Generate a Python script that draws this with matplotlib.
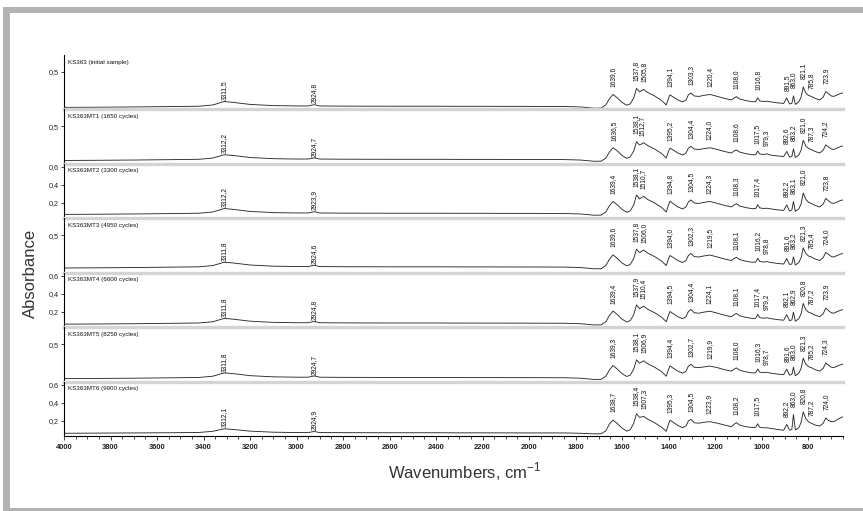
import numpy as np
import matplotlib
matplotlib.use("Agg")
import matplotlib.pyplot as plt
from matplotlib.patches import Rectangle
from matplotlib.ticker import MultipleLocator, FixedLocator

plt.rcParams['font.family'] = ['Liberation Sans', 'DejaVu Sans']

# ---------------- data ----------------
wn = [4000, 3850, 3700, 3550, 3420, 3360, 3311, 3270, 3200, 3100,
      3000, 2950, 2924, 2900, 2800, 2600, 2400, 2300, 2200, 2000,
      1850, 1780, 1720, 1690, 1670, 1655, 1639, 1620, 1600, 1580,
      1565, 1550, 1538, 1525, 1507, 1490, 1460, 1430, 1410, 1400,
      1394, 1380, 1360, 1340, 1325, 1315, 1304, 1290, 1270, 1250,
      1222, 1190, 1160, 1130, 1115, 1108, 1095, 1070, 1040, 1025,
      1017, 1008, 990, 979, 960, 930, 905, 892, 880, 870,
      863, 855, 840, 830, 821, 810, 798, 786, 770, 750,
      735, 724, 712, 700, 690, 675, 660, 650]

abs_ks363 = [0.106,0.108,0.111,0.115,0.119,0.133,0.172,0.161,0.139,0.126,
             0.122,0.122,0.136,0.122,0.120,0.119,0.119,0.118,0.118,0.117,
             0.116,0.111,0.097,0.098,0.133,0.200,0.250,0.211,0.161,0.130,
             0.145,0.211,0.317,0.278,0.306,0.272,0.233,0.183,0.133,0.211,
             0.245,0.222,0.189,0.167,0.189,0.245,0.267,0.233,0.228,0.239,
             0.250,0.228,0.206,0.189,0.217,0.225,0.200,0.183,0.169,0.172,
             0.213,0.178,0.172,0.175,0.167,0.156,0.150,0.211,0.145,0.150,
             0.233,0.139,0.167,0.222,0.333,0.267,0.239,0.228,0.206,0.189,
             0.222,0.283,0.256,0.233,0.228,0.245,0.261,0.267]

abs_mt1 = [0.121,0.123,0.126,0.130,0.134,0.148,0.185,0.176,0.154,0.141,
           0.137,0.137,0.150,0.137,0.135,0.134,0.134,0.133,0.133,0.132,
           0.131,0.126,0.112,0.113,0.148,0.212,0.262,0.226,0.176,0.145,
           0.160,0.226,0.330,0.293,0.318,0.287,0.248,0.198,0.148,0.226,
           0.258,0.237,0.204,0.182,0.204,0.258,0.278,0.248,0.243,0.252,
           0.262,0.243,0.221,0.204,0.232,0.238,0.215,0.198,0.184,0.187,
           0.226,0.193,0.187,0.195,0.180,0.171,0.165,0.222,0.160,0.165,
           0.250,0.154,0.182,0.237,0.345,0.282,0.254,0.243,0.221,0.204,
           0.237,0.295,0.271,0.248,0.243,0.260,0.276,0.282]

abs_mt2 = [0.071,0.073,0.076,0.080,0.084,0.098,0.137,0.126,0.104,0.091,
           0.087,0.087,0.101,0.087,0.085,0.084,0.084,0.083,0.083,0.082,
           0.081,0.076,0.062,0.063,0.098,0.165,0.215,0.176,0.126,0.095,
           0.110,0.176,0.287,0.245,0.272,0.237,0.198,0.148,0.098,0.180,
           0.218,0.190,0.154,0.132,0.154,0.210,0.232,0.198,0.193,0.204,
           0.215,0.193,0.171,0.154,0.182,0.190,0.165,0.148,0.134,0.137,
           0.178,0.143,0.137,0.140,0.132,0.121,0.115,0.176,0.110,0.120,
           0.215,0.104,0.132,0.190,0.310,0.240,0.204,0.193,0.171,0.154,
           0.187,0.250,0.221,0.198,0.193,0.210,0.226,0.232]

abs_mt3 = [0.136,0.138,0.141,0.145,0.149,0.163,0.200,0.191,0.169,0.156,
           0.152,0.152,0.166,0.152,0.150,0.149,0.149,0.148,0.148,0.147,
           0.146,0.141,0.127,0.128,0.163,0.230,0.282,0.241,0.191,0.160,
           0.175,0.241,0.345,0.308,0.335,0.302,0.263,0.213,0.163,0.241,
           0.275,0.252,0.219,0.197,0.219,0.275,0.297,0.263,0.258,0.269,
           0.280,0.258,0.236,0.219,0.247,0.255,0.230,0.213,0.199,0.202,
           0.243,0.208,0.202,0.207,0.197,0.186,0.180,0.241,0.175,0.180,
           0.260,0.169,0.197,0.252,0.360,0.297,0.269,0.258,0.236,0.219,
           0.252,0.310,0.286,0.263,0.258,0.275,0.291,0.297]

abs_mt4 = [0.061,0.063,0.066,0.070,0.074,0.088,0.125,0.116,0.094,0.081,
           0.077,0.077,0.091,0.077,0.075,0.074,0.074,0.073,0.073,0.072,
           0.071,0.066,0.052,0.053,0.088,0.155,0.207,0.166,0.116,0.085,
           0.100,0.166,0.275,0.233,0.262,0.227,0.188,0.138,0.088,0.166,
           0.202,0.177,0.144,0.122,0.144,0.202,0.225,0.188,0.183,0.194,
           0.205,0.183,0.161,0.144,0.172,0.180,0.155,0.138,0.124,0.127,
           0.170,0.133,0.127,0.132,0.122,0.111,0.105,0.166,0.100,0.108,
           0.195,0.094,0.122,0.177,0.292,0.222,0.194,0.183,0.161,0.144,
           0.177,0.240,0.211,0.188,0.183,0.200,0.216,0.222]

abs_mt5 = [0.116,0.118,0.121,0.125,0.129,0.143,0.180,0.171,0.149,0.136,
           0.132,0.132,0.146,0.132,0.130,0.129,0.129,0.128,0.128,0.127,
           0.126,0.121,0.107,0.108,0.143,0.210,0.262,0.221,0.171,0.140,
           0.155,0.221,0.325,0.288,0.314,0.282,0.243,0.193,0.143,0.221,
           0.258,0.232,0.199,0.177,0.199,0.255,0.275,0.243,0.238,0.246,
           0.256,0.238,0.216,0.199,0.227,0.235,0.210,0.193,0.179,0.182,
           0.223,0.188,0.182,0.187,0.177,0.166,0.160,0.221,0.155,0.162,
           0.243,0.149,0.177,0.232,0.343,0.277,0.249,0.238,0.216,0.199,
           0.232,0.291,0.266,0.243,0.238,0.255,0.271,0.277]

abs_mt6 = [0.058,0.060,0.062,0.064,0.067,0.080,0.108,0.100,0.082,0.070,
           0.066,0.066,0.078,0.066,0.065,0.064,0.064,0.063,0.063,0.062,
           0.062,0.058,0.052,0.053,0.085,0.160,0.205,0.165,0.115,0.082,
           0.098,0.170,0.275,0.235,0.245,0.215,0.175,0.125,0.080,0.165,
           0.203,0.180,0.145,0.120,0.140,0.195,0.213,0.175,0.170,0.180,
           0.187,0.170,0.150,0.131,0.165,0.176,0.150,0.132,0.122,0.125,
           0.163,0.125,0.118,0.120,0.112,0.100,0.092,0.156,0.092,0.100,
           0.266,0.095,0.120,0.180,0.296,0.220,0.185,0.169,0.150,0.139,
           0.170,0.229,0.200,0.187,0.187,0.210,0.232,0.241]

sample_names = ["KS363 (initial sample)", "KS363MT1 (1650 cycles)",
                "KS363MT2 (3300 cycles)", "KS363MT3 (4950 cycles)",
                "KS363MT4 (6600 cycles)", "KS363MT5 (8250 cycles)",
                "KS363MT6 (9900 cycles)"]

peaks_ks363 = [3311.5, 2924.8, 1639.6, 1537.8, 1505.8, 1394.1, 1303.3, 1220.4,
               1108.0, 1016.8, 891.5, 863.0, 821.1, 785.8, 723.9]
peaks_mt1 = [3312.2, 2924.7, 1636.5, 1538.1, 1512.7, 1395.2, 1304.4, 1224.0,
             1108.6, 1017.5, 979.3, 892.6, 863.2, 821.0, 787.3, 724.2]
peaks_mt2 = [3312.2, 2923.9, 1639.4, 1538.1, 1510.7, 1394.8, 1304.5, 1224.3,
             1108.3, 1017.4, 892.2, 863.1, 821.0, 723.8]
peaks_mt3 = [3311.8, 2924.6, 1639.6, 1537.8, 1506.0, 1394.0, 1302.3, 1219.5,
             1108.1, 1016.2, 978.8, 891.6, 863.2, 821.3, 785.4, 724.0]
peaks_mt4 = [3311.8, 2924.8, 1639.4, 1537.9, 1510.4, 1394.5, 1304.4, 1224.1,
             1108.1, 1017.4, 979.2, 892.1, 862.9, 820.8, 787.2, 723.9]
peaks_mt5 = [3311.8, 2924.7, 1639.3, 1538.1, 1506.9, 1394.4, 1302.7, 1219.9,
             1108.0, 1016.3, 978.7, 891.6, 863.0, 821.3, 785.2, 724.3]
peaks_mt6 = [3312.1, 2924.9, 1638.7, 1538.4, 1507.3, 1395.3, 1304.5, 1223.9,
             1108.2, 1017.5, 892.2, 863.0, 820.8, 787.2, 724.0]

yticks_half = [0.5]
yticks_fine = [0.2, 0.4, 0.6]
xtick_labels = [4000, 3800, 3600, 3400, 3200, 3000, 2800, 2600, 2400,
                2200, 2000, 1800, 1600, 1400, 1200, 1000, 800]

spectra = [abs_ks363, abs_mt1, abs_mt2, abs_mt3, abs_mt4, abs_mt5, abs_mt6]
peaks = [peaks_ks363, peaks_mt1, peaks_mt2, peaks_mt3, peaks_mt4, peaks_mt5, peaks_mt6]
panel_ticks = [yticks_half, yticks_half, yticks_fine, yticks_half,
               yticks_fine, yticks_half, yticks_fine]

# ---------------- figure ----------------
W, H = 863, 511
fig = plt.figure(figsize=(W / 100, H / 100), dpi=100)
fig.patch.set_facecolor('white')

frame_col = '#b3b3b3'
fig.add_artist(Rectangle((3 / W, 1 - 508 / H), 7 / W, 501 / H, transform=fig.transFigure,
                         facecolor=frame_col, edgecolor='none'))
fig.add_artist(Rectangle((3 / W, 1 - 13 / H), 1, 6 / H, transform=fig.transFigure,
                         facecolor=frame_col, edgecolor='none'))
fig.add_artist(Rectangle((3 / W, 0), 1, 3 / H, transform=fig.transFigure,
                         facecolor=frame_col, edgecolor='none'))

left_px, right_px = 64, 843
top_px, bottom_px = 55, 436
n = len(spectra)
ph = (bottom_px - top_px) / n
line_col = '#2b2b2b'
wn_arr = np.array(wn, dtype=float)

for i in range(n):
    y_top = top_px + i * ph
    ax = fig.add_axes([left_px / W, 1 - (y_top + ph) / H, (right_px - left_px) / W, ph / H])
    a = np.array(spectra[i])
    ax.plot(wn_arr, a, color=line_col, lw=0.65)
    ax.set_xlim(4000, 650)
    if panel_ticks[i] == yticks_half:
        ax.set_ylim(0.5 - 37.5 / 90, 0.5 + 17 / 90)
    else:
        ax.set_ylim(0.6 - 54.5 / 90 + 3 / 90, 0.6 + 3 / 90)
    ax.yaxis.set_major_locator(FixedLocator(panel_ticks[i]))
    ax.set_yticklabels([f"{t:.1f}".replace('.', ',') for t in panel_ticks[i]])
    ax.tick_params(axis='y', length=2.5, width=0.6, labelsize=5.2, pad=1.5, colors='#222222')
    for s in ['top', 'right']:
        ax.spines[s].set_visible(False)
    ax.spines['left'].set_linewidth(0.8)
    ax.patch.set_alpha(0)
    if i < n - 1:
        ax.spines['bottom'].set_color('#d4d4d4')
        ax.spines['bottom'].set_linewidth(2.4)
        ax.tick_params(axis='x', bottom=False, labelbottom=False)
    else:
        ax.spines['bottom'].set_linewidth(0.8)
        ax.xaxis.set_major_locator(FixedLocator(xtick_labels))
        ax.xaxis.set_minor_locator(MultipleLocator(50))
        ax.set_xticklabels([str(t) for t in xtick_labels])
        ax.tick_params(axis='x', which='major', length=3, width=0.6, labelsize=5.4,
                       pad=3, colors='#222222')
        ax.tick_params(axis='x', which='minor', length=2, width=0.5)
        for lbl in ax.get_xticklabels():
            lbl.set_fontweight('bold')
    ax.text(0.005, 0.87, sample_names[i], transform=ax.transAxes, fontsize=4.5,
            ha='left', va='center', color='#111111')
    # peak labels
    for p in peaks[i]:
        yv = np.interp(p, wn_arr[::-1], a[::-1])
        off = 1.0 if p > 2000 else 5.5
        ax.annotate(f"{p:.1f}".replace('.', ','), xy=(p, yv), xytext=(0, off),
                    textcoords='offset points', rotation=90, ha='center', va='bottom',
                    fontsize=4.8, color='#111111', annotation_clip=False)

fig.text(30 / W, 1 - 273 / H, "Absorbance", rotation=90, ha='center', va='center',
         fontsize=12, color='#333333')
fig.text(465 / W, 1 - 472 / H, r"Wavenumbers, cm$^{\mathregular{-1}}$", ha='center',
         va='center', fontsize=12, color='#333333')

fig.savefig("out.png", dpi=100)
